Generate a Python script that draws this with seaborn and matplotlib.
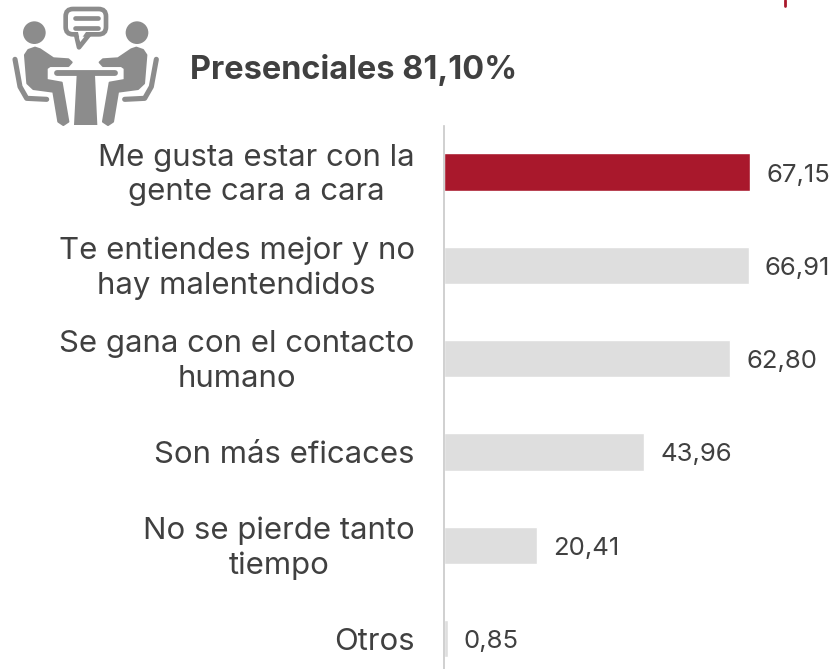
import matplotlib
matplotlib.use("Agg")
import matplotlib.pyplot as plt
from matplotlib.patches import Circle, FancyBboxPatch, Polygon
from matplotlib.transforms import ScaledTranslation
import pandas as pd
import seaborn as sns

categorias = ["Me gusta estar con la\ngente cara a cara",
              "Te entiendes mejor y no\nhay malentendidos",
              "Se gana con el contacto\nhumano",
              "Son más eficaces",
              "No se pierde tanto\ntiempo",
              "Otros"]
valores = [67.15, 66.91, 62.80, 43.96, 20.41, 0.85]
etiquetas = ["67,15", "66,91", "62,80", "43,96", "20,41", "0,85"]
titulo = "Presenciales 81,10%"

ROJO = "#a9182c"
GRIS = "#dedede"
TEXTO = "#404040"
ICONO = "#8c8c8c"

sns.set_theme(style="white")
plt.rcParams["font.family"] = ["Inter", "DejaVu Sans"]

df = pd.DataFrame({"categoria": categorias, "valor": valores})
colores = [ROJO] + [GRIS] * 5

W, H = 831, 669
fig = plt.figure(figsize=(W / 100, H / 100), dpi=100)

# eje de las barras, en pixeles: x 444 -> 750 para 67.15
x0, x1 = 444, 750
y_top, y_bot = 126, 669
ax = fig.add_axes([x0 / W, 1 - y_bot / H, (x1 - x0) / W, (y_bot - y_top) / H])
sns.barplot(data=df, y="categoria", x="valor", hue="categoria", palette=colores,
            legend=False, width=0.4, saturation=1, ax=ax, orient="h")
ax.set_xlim(0, 67.15)
# centros: 172 y paso 93.3
ax.set_ylim((669 - 172) / 93.3, -(172 - 126) / 93.3)
ax.set_xlabel("")
ax.set_ylabel("")
ax.set_xticks([])
ax.tick_params(axis="y", length=0, pad=21)
ax.set_yticks(range(len(categorias)))
ax.set_yticklabels(categorias, fontsize=22.4, color=TEXTO, ha="right",
                   linespacing=1.3, multialignment="center")
# las de dos lineas van un poco mas arriba
for lab in ax.get_yticklabels():
    if "\n" in lab.get_text():
        lab.set_transform(lab.get_transform() + ScaledTranslation(0, 3.5 / 100, fig.dpi_scale_trans))
for s in ["top", "right", "bottom"]:
    ax.spines[s].set_visible(False)
ax.spines["left"].set_color("#c8c8c8")
ax.spines["left"].set_linewidth(1.2)
for i, (v, e) in enumerate(zip(valores, etiquetas)):
    ax.annotate(e, (v, i), xytext=(16, -3), textcoords="offset pixels",
                va="center", ha="left", fontsize=18.5, color=TEXTO,
                annotation_clip=False)

fig.text(190 / W, 1 - 69.5 / H, titulo, fontsize=23.4, fontweight="bold",
         color=TEXTO, va="center", ha="left")

# capa para el icono, en pixeles del zoom (x3)
ic = fig.add_axes([0, 0, 1, 1], facecolor="none")
ic.set_xlim(0, W * 3)
ic.set_ylim(H * 3, 0)
ic.axis("off")
lw = 14 / 3 * 0.72

torso = [(75, 165), (85, 150), (105, 143), (120, 148), (160, 175), (205, 178),
         (215, 187), (205, 198), (150, 198), (140, 205), (140, 240), (185, 248),
         (205, 365), (190, 375), (175, 365), (160, 275), (100, 267), (82, 250)]
silla_x = [45, 60, 80, 140]
silla_y = [178, 260, 295, 298]
for lado in (lambda x: x, lambda x: 514 - x):
    ic.add_patch(Circle((lado(103), 98), 34, color=ICONO, lw=0))
    ic.add_patch(Polygon([(lado(x), y) for x, y in torso], closed=True, fc=ICONO,
                         ec=ICONO, lw=1.5, joinstyle="round"))
    ic.plot([lado(x) for x in silla_x], silla_y, color=ICONO, lw=lw * 1.1,
            solid_capstyle="round", solid_joinstyle="round")

ic.plot([170, 345], [220, 220], color=ICONO, lw=lw * 1.25, solid_capstyle="round")
ic.add_patch(Polygon([(230, 225), (285, 225), (292, 375), (222, 375)], fc=ICONO, lw=0))

ic.add_patch(FancyBboxPatch((197, 27), 121, 76, boxstyle="round,pad=0,rounding_size=22",
                            fc="white", ec=ICONO, lw=lw))
ic.add_patch(Polygon([(228, 103), (237, 142), (268, 103)], fc="white", ec=ICONO,
                     lw=lw, joinstyle="round"))
ic.add_patch(Polygon([(234, 96), (240, 122), (258, 96)], fc="white", lw=0))
ic.plot([224, 295], [55, 55], color=ICONO, lw=lw, solid_capstyle="round")
ic.plot([224, 295], [83, 83], color=ICONO, lw=lw, solid_capstyle="round")

# marca roja arriba a la derecha
ic.plot([785 * 3, 785 * 3], [0, 18], color=ROJO, lw=2)

fig.savefig("out.png", dpi=100)
